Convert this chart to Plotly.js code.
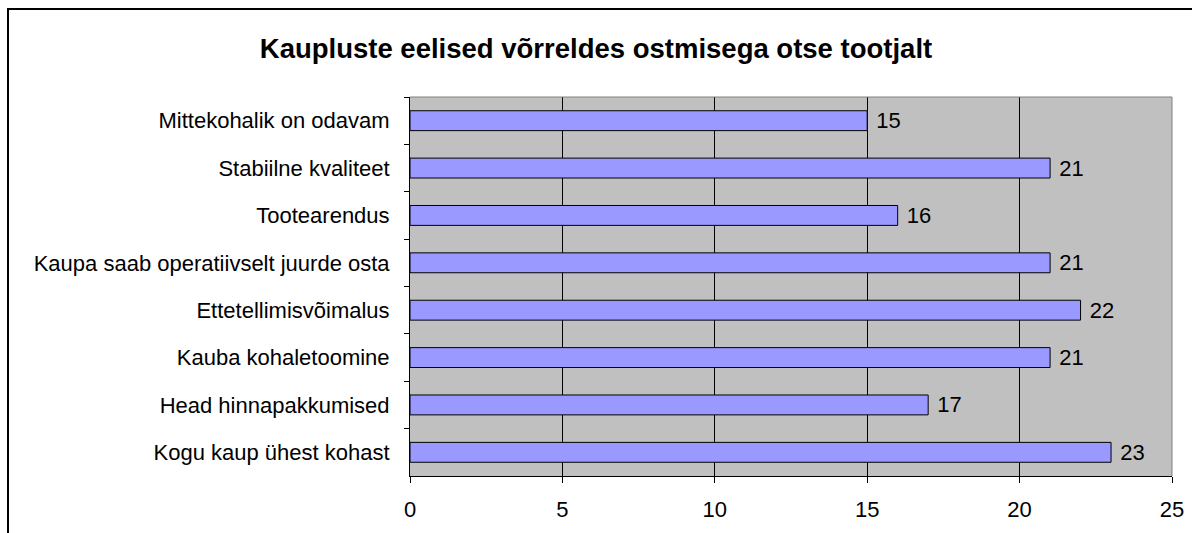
<!DOCTYPE html>
<html>
<head>
<meta charset="utf-8">
<script src="https://cdn.plot.ly/plotly-3.0.1.min.js"></script>
<style>html,body{margin:0;padding:0;background:#fff;}#chart{width:1192px;height:533px;}</style>
</head>
<body>
<div id="chart"></div>
<script>
const categories = [
  "Mittekohalik on odavam",
  "Stabiilne kvaliteet",
  "Tootearendus",
  "Kaupa saab operatiivselt juurde osta",
  "Ettetellimisvõimalus",
  "Kauba kohaletoomine",
  "Head hinnapakkumised",
  "Kogu kaup ühest kohast"
];
const values = [15, 21, 16, 21, 22, 21, 17, 23];
const xTicks = [0, 5, 10, 15, 20, 25];
const titleText = "Kaupluste eelised võrreldes ostmisega otse tootjalt";

const FONT = "Liberation Sans, Arial, sans-serif";
const W = 1192, H = 533;
const L = 410, R = 20, T = 97, B = 57;
const pw = W - L - R, ph = H - T - B;
function px2x(p){ return (p - L) / pw; }
function py2y(p){ return (H - B - p) / ph; }

const trace = {
  type: "bar",
  orientation: "h",
  y: categories,
  x: values,
  text: values.map(v => " " + v),
  textposition: "outside",
  constraintext: "none",
  textfont: {family: FONT, size: 22, color: "#000"},
  cliponaxis: false,
  marker: {color: "#9999FF", line: {color: "#000", width: 1}},
  width: 0.42,
  hoverinfo: "skip"
};

const layout = {
  width: W, height: H,
  margin: {l: L, r: R, t: T, b: B, pad: 0},
  paper_bgcolor: "#fff",
  plot_bgcolor: "#C0C0C0",
  showlegend: false,
  font: {family: FONT, size: 22, color: "#000"},
  title: {
    text: "<b>" + titleText + "</b>",
    font: {family: FONT, size: 27.5, color: "#000"},
    x: 0.5, xanchor: "center", xref: "container",
    y: (H - 48) / H, yanchor: "middle", yref: "container"
  },
  xaxis: {
    range: [0, 25],
    tickvals: xTicks,
    ticktext: xTicks.map(String),
    showgrid: true, gridcolor: "#000", gridwidth: 1,
    zeroline: false,
    showline: true, linecolor: "#000", linewidth: 1,
    ticks: "outside", ticklen: 6, tickcolor: "#000", tickwidth: 1,
    ticklabelstandoff: 8,
    tickfont: {family: FONT, size: 22, color: "#000"},
    fixedrange: true
  },
  yaxis: {
    type: "category",
    autorange: "reversed",
    showgrid: false,
    showline: true, linecolor: "#000", linewidth: 1,
    ticks: "outside", ticklen: 5, tickcolor: "#000", tickwidth: 1,
    tickson: "boundaries",
    ticklabelstandoff: 15,
    tickfont: {family: FONT, size: 22, color: "#000"},
    fixedrange: true
  },
  shapes: [
    {type: "line", xref: "paper", yref: "paper", x0: 0, x1: 1, y0: 1, y1: 1,
     line: {color: "#808080", width: 1}},
    {type: "line", xref: "paper", yref: "paper", x0: 1, x1: 1, y0: 0, y1: 1,
     line: {color: "#808080", width: 1}},
    {type: "rect", xref: "paper", yref: "paper",
     x0: px2x(8), x1: px2x(1210), y0: py2y(560), y1: py2y(9),
     line: {color: "#000", width: 2}, fillcolor: "rgba(0,0,0,0)"}
  ]
};

Plotly.newPlot("chart", [trace], layout, {displayModeBar: false, staticPlot: true});
</script>
</body>
</html>
